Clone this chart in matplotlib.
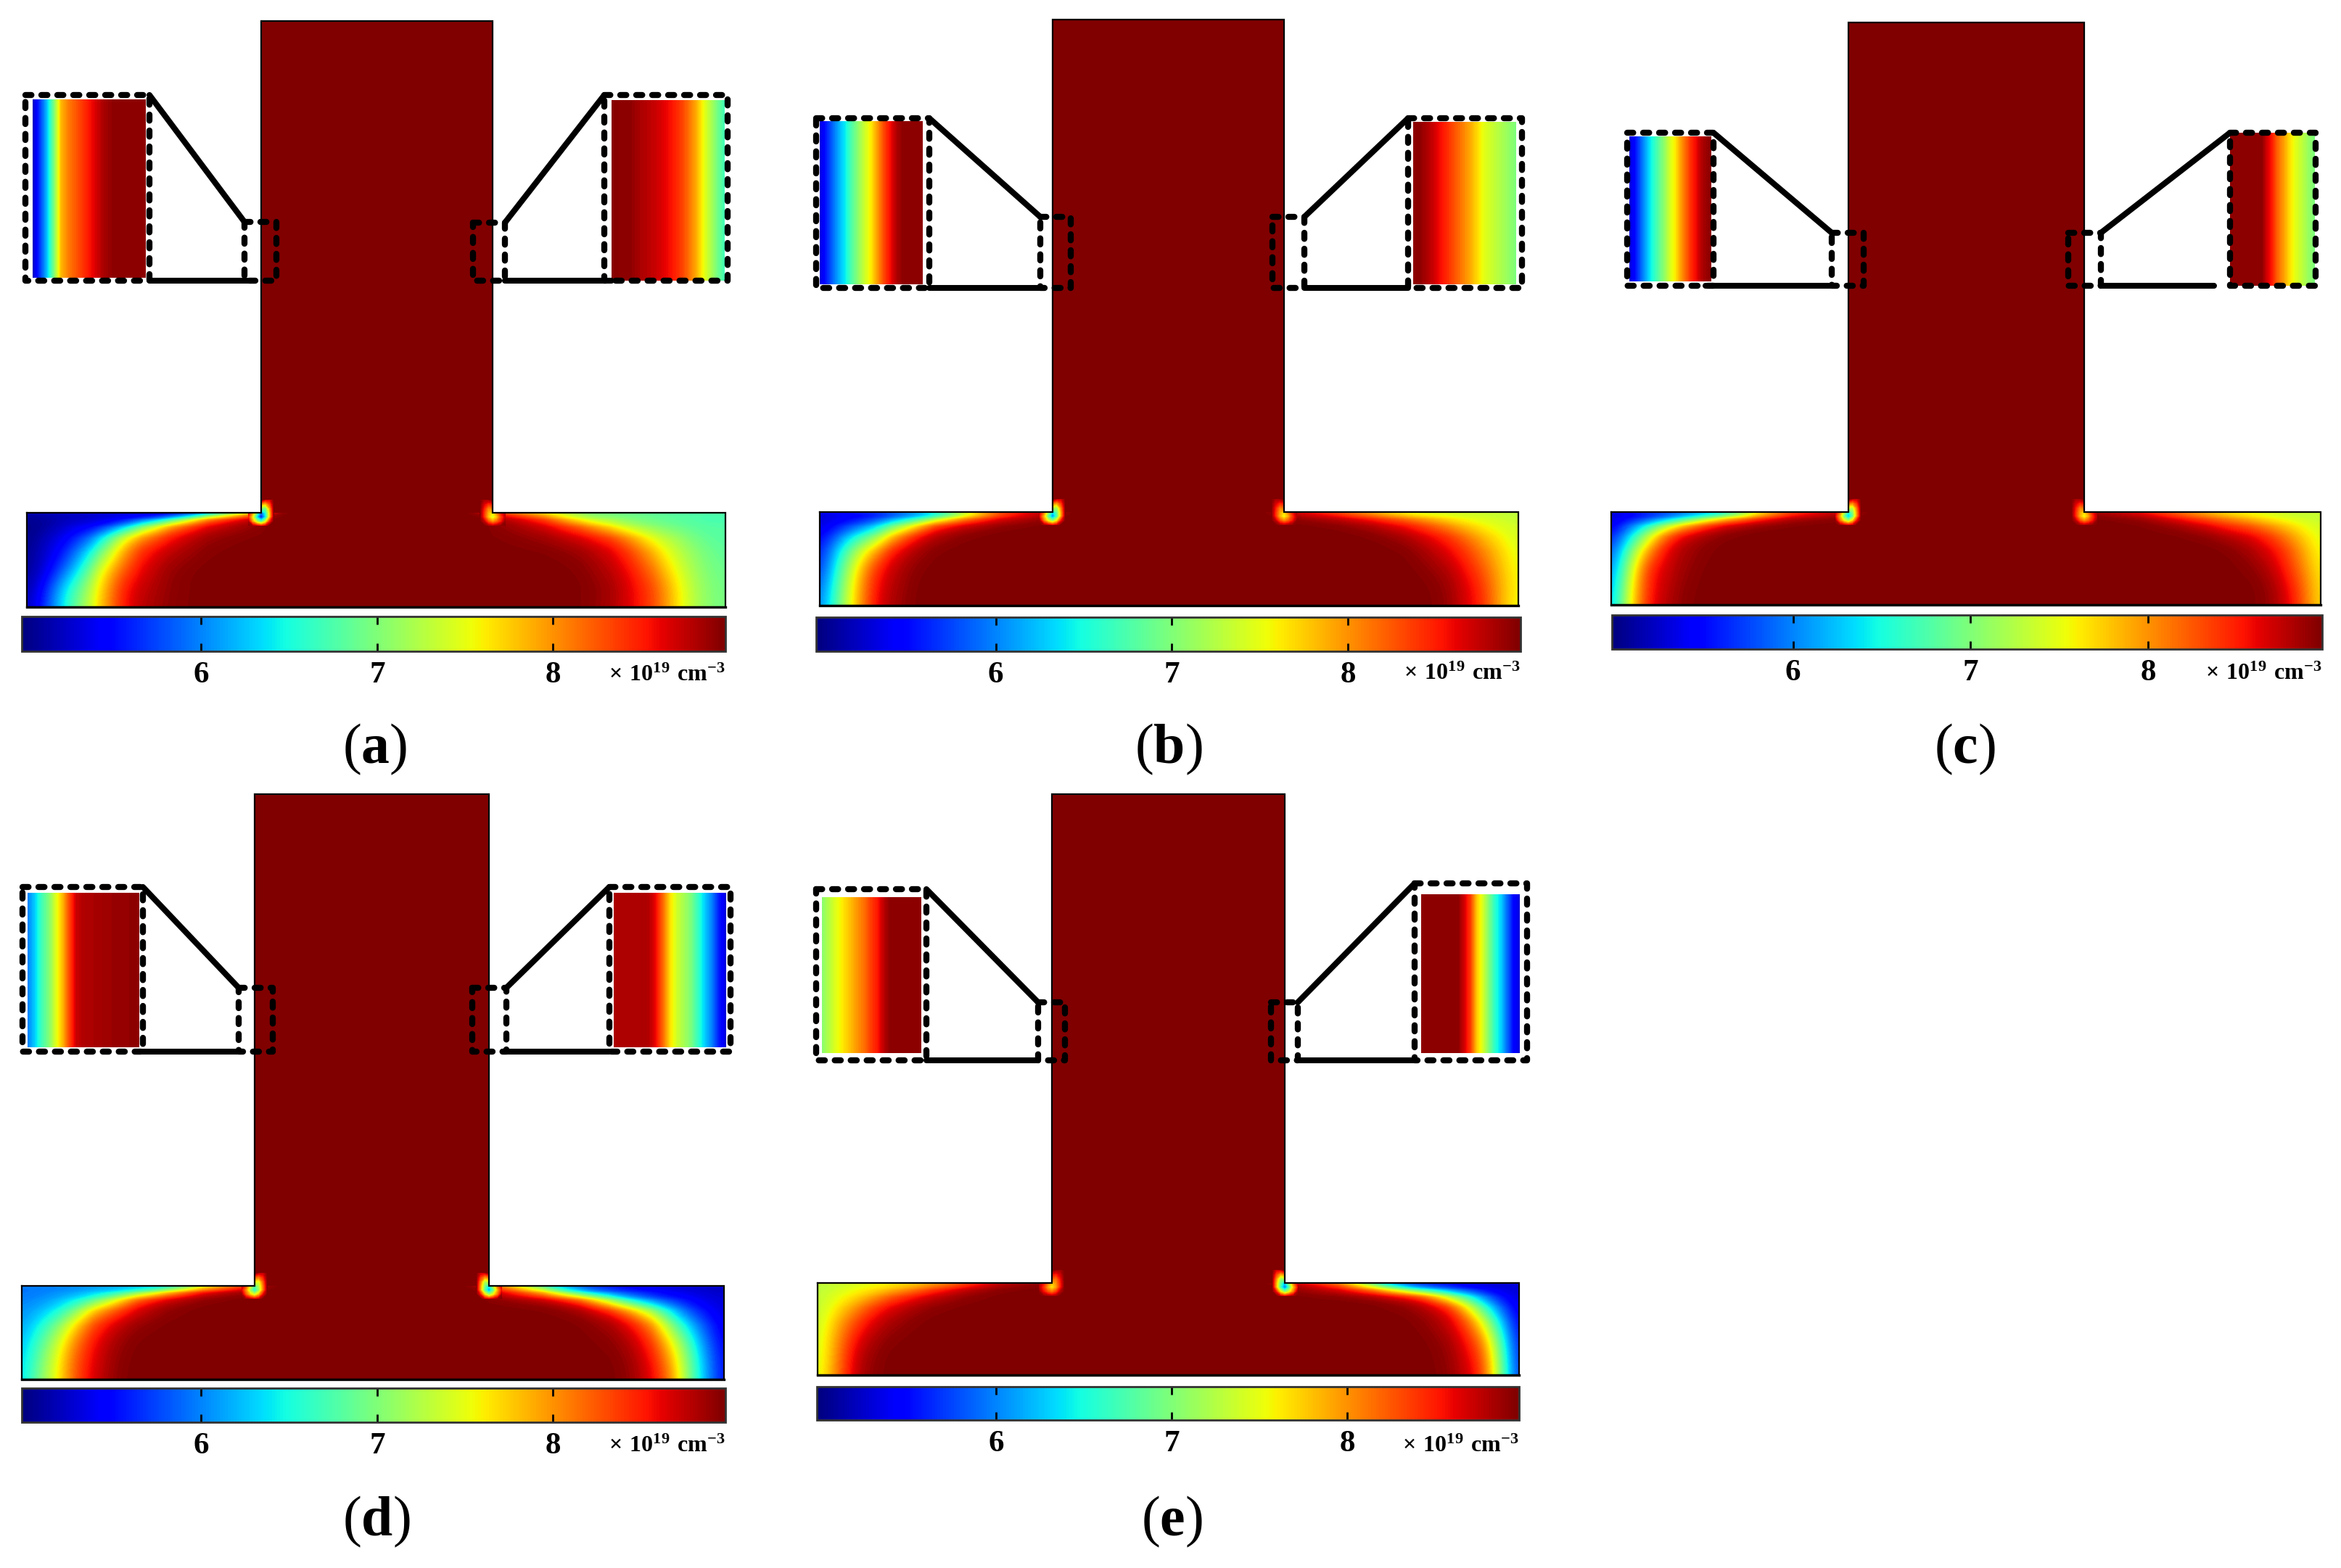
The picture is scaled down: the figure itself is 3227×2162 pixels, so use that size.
#coding=utf-8

import numpy as np
import matplotlib
matplotlib.use('Agg')
import matplotlib.pyplot as plt
from matplotlib.cm import ScalarMappable
from matplotlib.colors import Normalize
from matplotlib.patches import Polygon, Rectangle
from matplotlib.ticker import FormatStrFormatter

plt.rcParams['font.family'] = ['Liberation Serif', 'DejaVu Serif']
plt.rcParams['mathtext.fontset'] = 'custom'
plt.rcParams['mathtext.rm'] = 'Liberation Serif:bold'
plt.rcParams['mathtext.bf'] = 'Liberation Serif:bold'

#data: concentration in 1e19 cm-3
cbar_ticks = [6, 7, 8]
panel_labels = ['a', 'b', 'c', 'd', 'e']
unit_label = r'$\mathrm{\times\ 10^{19}\ cm^{-3}}$'
v_min, v_max = 5, 9
cbar_min, cbar_max = 4.98, 8.98

#foot grid: rows from the top edge, columns from the outer edge (px of the reference)
foot_rows = [0, 4, 10, 20, 35, 55, 80, 105, 130]
foot_cols = [0, 25, 50, 75, 100, 130, 160, 200, 250]

foot_left_a = [
    [5.2, 5.2, 5.25, 5.3, 5.3, 5.35, 5.4, 5.5, 6.0, 8.0],
    [5.1, 5.15, 5.2, 5.25, 5.3, 5.35, 5.4, 5.5, 6.5, 8.8],
    [5.05, 5.1, 5.2, 5.25, 5.3, 5.45, 5.75, 6.5, 8.4, 8.99],
    [5.0, 5.1, 5.25, 5.4, 5.5, 6.05, 7.0, 8.2, 8.73, 9],
    [5.0, 5.2, 5.4, 5.7, 6.2, 7.45, 8.1, 8.6, 8.95, 9],
    [5.05, 5.25, 5.55, 6.1, 6.8, 7.85, 8.55, 8.8, 9, 9],
    [5.05, 5.3, 5.85, 6.5, 7.45, 8.25, 8.65, 8.97, 9, 9],
    [5.1, 5.55, 6.35, 6.95, 7.6, 8.55, 8.75, 8.96, 9, 9],
    [5.15, 5.65, 6.45, 7.05, 7.7, 8.55, 8.8, 8.97, 9, 9],
]
foot_right_a = [
    [6.8, 6.8, 6.8, 6.8, 6.85, 6.9, 6.95, 7.05, 7.6, 8.3],
    [6.75, 6.75, 6.8, 6.85, 6.9, 6.95, 7.0, 7.1, 7.8, 8.9],
    [6.75, 6.75, 6.8, 6.85, 6.9, 7.0, 7.15, 7.4, 8.5, 9],
    [6.8, 6.8, 6.85, 6.95, 7.05, 7.25, 7.65, 8.3, 8.75, 9],
    [6.8, 6.85, 7.0, 7.25, 7.45, 8.0, 8.45, 8.7, 8.9, 9],
    [6.85, 6.95, 7.15, 7.45, 7.85, 8.4, 8.7, 8.92, 9, 9],
    [6.9, 7.0, 7.25, 7.65, 8.15, 8.58, 8.79, 9, 9, 9],
    [6.95, 7.05, 7.35, 7.85, 8.35, 8.65, 8.9, 9, 9, 9],
    [6.95, 7.05, 7.35, 7.85, 8.35, 8.65, 8.85, 9, 9, 9],
]
foot_left_b = [
    [5.4, 5.5, 5.6, 5.7, 5.9, 6.2, 6.6, 7.5, 8.5, 8.8],
    [5.3, 5.4, 5.45, 5.55, 5.75, 6.0, 6.3, 7.2, 8.4, 8.9],
    [5.3, 5.4, 5.5, 5.7, 6.0, 6.5, 7.1, 8.1, 8.7, 9],
    [5.3, 5.55, 5.85, 6.2, 6.9, 7.6, 8.55, 8.8, 9, 9],
    [5.4, 5.9, 6.55, 7.0, 7.85, 8.6, 8.85, 9, 9, 9],
    [5.5, 6.35, 7.2, 7.9, 8.6, 8.85, 9, 9, 9, 9],
    [5.6, 6.6, 7.6, 8.45, 8.75, 8.97, 9, 9, 9, 9],
    [5.8, 6.75, 7.75, 8.55, 8.8, 9, 9, 9, 9, 9],
    [5.9, 6.85, 7.8, 8.6, 8.85, 9, 9, 9, 9, 9],
]
foot_right_b = [
    [7.3, 7.35, 7.4, 7.4, 7.45, 7.5, 7.6, 7.9, 8.3, 8.8],
    [7.3, 7.35, 7.4, 7.4, 7.45, 7.5, 7.65, 8.0, 8.45, 8.9],
    [7.35, 7.4, 7.45, 7.55, 7.7, 7.95, 8.2, 8.5, 8.8, 9],
    [7.4, 7.45, 7.6, 7.8, 8.05, 8.4, 8.6, 8.85, 9, 9],
    [7.4, 7.6, 7.85, 8.2, 8.5, 8.7, 8.88, 9, 9, 9],
    [7.45, 7.75, 8.1, 8.45, 8.65, 8.88, 9, 9, 9, 9],
    [7.5, 7.85, 8.3, 8.6, 8.85, 8.97, 9, 9, 9, 9],
    [7.55, 7.9, 8.45, 8.7, 8.93, 9, 9, 9, 9, 9],
    [7.5, 7.9, 8.5, 8.7, 8.95, 9, 9, 9, 9, 9],
]
foot_left_c = [
    [5.3, 5.5, 5.7, 5.85, 6.05, 6.4, 6.7, 7.7, 8.5, 8.8],
    [5.3, 5.45, 5.6, 5.8, 6.0, 6.3, 6.55, 7.6, 8.5, 8.9],
    [5.3, 5.5, 5.75, 6.1, 6.5, 7.2, 7.8, 8.4, 8.9, 9],
    [5.3, 5.9, 6.5, 7.25, 7.9, 8.5, 8.8, 9, 9, 9],
    [5.5, 6.3, 7.3, 8.3, 8.75, 8.92, 9, 9, 9, 9],
    [5.7, 6.85, 7.95, 8.65, 8.85, 8.97, 9, 9, 9, 9],
    [5.9, 7.2, 8.5, 8.7, 8.9, 9, 9, 9, 9, 9],
    [6.0, 7.4, 8.5, 8.75, 8.95, 9, 9, 9, 9, 9],
    [6.1, 7.5, 8.57, 8.8, 8.97, 9, 9, 9, 9, 9],
]
foot_right_c = [
    [7.35, 7.35, 7.4, 7.5, 7.55, 7.7, 7.9, 8.2, 8.6, 8.9],
    [7.35, 7.35, 7.4, 7.5, 7.6, 7.75, 7.95, 8.3, 8.7, 9],
    [7.35, 7.4, 7.5, 7.65, 7.85, 8.1, 8.3, 8.6, 8.97, 9],
    [7.4, 7.55, 7.8, 8.05, 8.3, 8.47, 8.7, 8.92, 9, 9],
    [7.45, 7.75, 8.15, 8.5, 8.7, 8.85, 8.97, 9, 9, 9],
    [7.5, 7.95, 8.45, 8.7, 8.88, 9, 9, 9, 9, 9],
    [7.55, 8.1, 8.55, 8.85, 8.97, 9, 9, 9, 9, 9],
    [7.6, 8.25, 8.7, 8.95, 9, 9, 9, 9, 9, 9],
    [7.6, 8.3, 8.75, 8.95, 9, 9, 9, 9, 9, 9],
]
foot_left_d = [
    [6.0, 6.0, 6.05, 6.05, 6.1, 6.2, 6.3, 6.5, 7.4, 8.6],
    [5.95, 6.0, 6.0, 6.05, 6.15, 6.2, 6.3, 6.5, 7.7, 8.9],
    [5.95, 6.0, 6.05, 6.15, 6.25, 6.45, 6.9, 7.75, 8.8, 9],
    [6.0, 6.05, 6.2, 6.4, 6.75, 7.5, 8.4, 8.8, 9, 9],
    [6.05, 6.2, 6.45, 7.0, 7.85, 8.35, 8.7, 8.97, 9, 9],
    [6.1, 6.45, 7.0, 7.75, 8.4, 8.75, 8.95, 9, 9, 9],
    [6.2, 6.75, 7.4, 8.15, 8.6, 8.9, 9, 9, 9, 9],
    [6.25, 6.9, 7.55, 8.3, 8.65, 8.95, 9, 9, 9, 9],
    [6.3, 7.0, 7.6, 8.35, 8.7, 8.97, 9, 9, 9, 9],
]
foot_right_d = [
    [5.3, 5.3, 5.3, 5.35, 5.4, 5.5, 5.6, 5.85, 6.6, 8.5],
    [5.25, 5.25, 5.3, 5.35, 5.4, 5.5, 5.65, 5.95, 6.9, 8.9],
    [5.25, 5.3, 5.35, 5.45, 5.55, 5.7, 5.9, 6.35, 7.95, 9],
    [5.3, 5.35, 5.5, 5.65, 5.85, 6.35, 7.15, 8.55, 8.9, 9],
    [5.3, 5.5, 5.8, 6.45, 7.2, 8.1, 8.65, 8.95, 9, 9],
    [5.35, 5.75, 6.35, 7.1, 8.15, 8.68, 8.9, 9, 9, 9],
    [5.4, 5.95, 6.8, 7.75, 8.45, 8.85, 8.97, 9, 9, 9],
    [5.45, 6.1, 7.0, 8.0, 8.6, 8.93, 9, 9, 9, 9],
    [5.45, 6.15, 7.05, 8.2, 8.65, 8.95, 9, 9, 9, 9],
]
foot_left_e = [
    [7.35, 7.4, 7.45, 7.55, 7.6, 7.75, 7.95, 8.3, 8.8, 8.95],
    [7.3, 7.35, 7.45, 7.55, 7.65, 7.8, 8.0, 8.35, 8.85, 9],
    [7.3, 7.4, 7.55, 7.65, 7.8, 8.05, 8.4, 8.75, 9, 9],
    [7.3, 7.5, 7.65, 7.9, 8.25, 8.55, 8.75, 8.95, 9, 9],
    [7.3, 7.6, 7.95, 8.4, 8.65, 8.85, 8.97, 9, 9, 9],
    [7.3, 7.8, 8.3, 8.65, 8.85, 8.97, 9, 9, 9, 9],
    [7.35, 7.95, 8.55, 8.85, 8.97, 9, 9, 9, 9, 9],
    [7.35, 8.0, 8.7, 8.93, 9, 9, 9, 9, 9, 9],
    [7.4, 8.05, 8.75, 8.95, 9, 9, 9, 9, 9, 9],
]
foot_right_e = [
    [5.3, 5.3, 5.35, 5.4, 5.5, 5.65, 5.9, 6.7, 8.1, 8.8],
    [5.3, 5.3, 5.35, 5.45, 5.6, 5.75, 6.0, 7.0, 8.5, 8.95],
    [5.3, 5.35, 5.5, 5.7, 5.95, 6.4, 7.0, 8.1, 8.7, 9],
    [5.3, 5.5, 6.0, 6.75, 7.4, 8.5, 8.75, 8.97, 9, 9],
    [5.3, 5.85, 6.75, 7.8, 8.65, 8.85, 8.97, 9, 9, 9],
    [5.35, 6.25, 7.5, 8.4, 8.75, 8.95, 9, 9, 9, 9],
    [5.4, 6.7, 8.1, 8.6, 8.9, 9, 9, 9, 9, 9],
    [5.45, 6.9, 8.35, 8.7, 8.95, 9, 9, 9, 9, 9],
    [5.5, 7.0, 8.45, 8.75, 8.97, 9, 9, 9, 9, 9],
]

#zoomed strips, left to right
strip_left_a = [5.2, 5.7, 6.25, 7.0, 7.85, 8.1, 8.25, 8.4, 8.55, 8.7, 8.85, 8.92, 8.95, 8.95, 8.95, 8.95, 8.95]
strip_right_a = [8.96, 8.95, 8.95, 8.92, 8.85, 8.8, 8.75, 8.68, 8.6, 8.5, 8.35, 8.15, 7.9, 7.55, 7.25, 6.95, 6.7]
strip_left_b = [5.3, 5.6, 5.9, 6.2, 6.45, 6.8, 7.1, 7.4, 7.65, 8.0, 8.35, 8.6, 8.85, 8.95, 8.95, 8.95, 8.95]
strip_right_b = [8.95, 8.95, 8.85, 8.75, 8.6, 8.5, 8.35, 8.2, 8.05, 7.9, 7.7, 7.5, 7.4, 7.3, 7.2, 7.1, 7.0]
strip_left_c = [5.3, 5.5, 5.8, 6.1, 6.4, 6.65, 6.9, 7.15, 7.45, 7.65, 7.95, 8.2, 8.45, 8.6, 8.8, 8.9, 8.95]
strip_right_c = [8.95, 8.95, 8.95, 8.95, 8.95, 8.95, 8.95, 8.7, 8.5, 8.2, 8.0, 7.75, 7.55, 7.4, 7.25, 7.1, 7.0]
strip_left_d = [6.0, 6.3, 6.7, 7.0, 7.45, 7.85, 8.35, 8.75, 8.82, 8.84, 8.86, 8.88, 8.9, 8.91, 8.92, 8.93, 8.94]
strip_right_d = [8.85, 8.85, 8.85, 8.85, 8.84, 8.82, 8.6, 8.2, 7.7, 7.4, 7.2, 7.0, 6.65, 6.3, 6.0, 5.6, 5.3]
strip_left_e = [7.05, 7.25, 7.45, 7.6, 7.75, 7.9, 8.05, 8.2, 8.4, 8.55, 8.8, 8.95, 8.95, 8.95, 8.95, 8.95, 8.95]
strip_right_e = [8.95, 8.95, 8.95, 8.95, 8.95, 8.95, 8.95, 8.7, 8.4, 7.8, 7.45, 7.0, 6.6, 6.3, 5.9, 5.5, 5.3]

#hot spot in the re-entrant corners: lowest value and shape (0 = no dip, 1 = full dip)
spot_core_left = [5.5, 6.0, 6.2, 6.5, 7.6]
spot_core_right = [7.4, 7.5, 7.5, 6.1, 5.9]
spot_steps = [-18, -12, -6, 0, 6, 12, 18]
spot_shape = [
    [0, 0, 0, 0, 0.1, 0.1, 0],
    [0, 0, 0, 0.3, 0.35, 0.2, 0],
    [0, 0, 0, 0.55, 0.6, 0.3, 0],
    [0.1, 0.3, 0.6, 0.9, 0.7, 0.35, 0],
    [0.15, 0.4, 0.75, 1, 0.75, 0.35, 0],
    [0.05, 0.3, 0.5, 0.65, 0.45, 0.15, 0],
    [0, 0.05, 0.1, 0.15, 0.1, 0, 0],
]

foots_left = [foot_left_a, foot_left_b, foot_left_c, foot_left_d, foot_left_e]
foots_right = [foot_right_a, foot_right_b, foot_right_c, foot_right_d, foot_right_e]
strips_left = [strip_left_a, strip_left_b, strip_left_c, strip_left_d, strip_left_e]
strips_right = [strip_right_a, strip_right_b, strip_right_c, strip_right_d, strip_right_e]

#layout, in px of the 3227x2162 picture
W, H = 3227, 2162
layouts = [
    dict(foot=(37, 1000, 707, 837), stem=(360, 679, 29), cbar=(30, 1000, 850, 898),
         tick_y=927, label=(517, 1033),
         box_l=(35, 206, 131, 387), img_l=(45, 201, 137, 383), small_l=(337, 381, 306, 387), solid_l=(206, 345),
         box_r=(833, 1003, 131, 387), img_r=(843, 999, 138, 387), small_r=(652, 696, 307, 387), solid_r=(696, 843)),
    dict(foot=(1130, 2093, 706, 835), stem=(1451, 1770, 27), cbar=(1125, 2096, 851, 898),
         tick_y=925, label=(1611, 1033),
         box_l=(1125, 1281, 163, 397), img_l=(1130, 1272, 167, 392), small_l=(1434, 1476, 299, 397), solid_l=(1281, 1434),
         box_r=(1941, 2098, 163, 397), img_r=(1948, 2090, 168, 392), small_r=(1754, 1798, 299, 397), solid_r=(1798, 1941)),
    dict(foot=(2221, 3199, 706, 834), stem=(2548, 2873, 31), cbar=(2222, 3201, 848, 895),
         tick_y=925, label=(2708, 1033),
         box_l=(2243, 2362, 183, 394), img_l=(2246, 2359, 188, 388), small_l=(2525, 2569, 321, 394), solid_l=(2351, 2525),
         box_r=(3074, 3192, 183, 394), img_r=(3074, 3191, 183, 394), small_r=(2851, 2896, 321, 394), solid_r=(2896, 3052)),
    dict(foot=(30, 998, 1773, 1902), stem=(351, 674, 1095), cbar=(30, 1000, 1914, 1961),
         tick_y=1990, label=(519, 2098),
         box_l=(31, 197, 1223, 1450), img_l=(38, 192, 1231, 1444), small_l=(329, 376, 1362, 1450), solid_l=(190, 329),
         box_r=(840, 1007, 1223, 1450), img_r=(846, 1001, 1231, 1444), small_r=(651, 698, 1362, 1450), solid_r=(698, 840)),
    dict(foot=(1127, 2094, 1769, 1896), stem=(1450, 1771, 1095), cbar=(1126, 2094, 1912, 1958),
         tick_y=1990, label=(1615, 2098),
         box_l=(1125, 1277, 1226, 1462), img_l=(1133, 1270, 1237, 1452), small_l=(1431, 1468, 1382, 1462), solid_l=(1277, 1431),
         box_r=(1950, 2105, 1218, 1462), img_r=(1959, 2095, 1233, 1452), small_r=(1752, 1789, 1382, 1462), solid_r=(1789, 1950)),
]

#functions
norm = Normalize(v_min, v_max)
levels = np.linspace(v_min, v_max, 161)
DASH = (0, (1, 1.64))


def drawField(ax, x, y, z, zorder=1):
    return ax.contourf(x, y, z, levels=levels, cmap='jet', norm=norm, extend='both', zorder=zorder)


def refineAxis(values, n):
    # n sub steps between neighbours, straight between them
    index = np.arange((len(values) - 1) * n + 1) / n
    return np.interp(index, np.arange(len(values)), values)


def blurAxis(values, n):
    # box filter over one cell, so the kinks of the coarse grid go
    kernel = np.ones(n + 1) / (n + 1)
    padded = np.pad(values, n // 2, mode='edge')
    return np.convolve(padded, kernel, mode='valid')


def drawSmoothField(ax, x, y, z, zorder=1, n=8):
    fine_x, fine_y = refineAxis(x, n), refineAxis(y, n)
    fine_z = np.apply_along_axis(refineAxis, 1, z, n)
    fine_z = np.apply_along_axis(refineAxis, 0, fine_z, n)
    for _ in range(2):
        fine_z = np.apply_along_axis(blurAxis, 1, fine_z, n)
        fine_z = np.apply_along_axis(blurAxis, 0, fine_z, n)
    return drawField(ax, fine_x, fine_y, fine_z, zorder)


def drawBox(ax, box):
    x0, x1, y0, y1 = box
    ax.plot([x0, x1, x1, x0, x0], [y0, y0, y1, y1, y0], color='black', lw=6, linestyle=DASH,
            dash_capstyle='round', zorder=5)


def drawStrip(ax, img, values):
    x0, x1, y0, y1 = img
    x = np.linspace(x0, x1, len(values))
    drawField(ax, x, [y0, y1], np.vstack([values, values]), zorder=3)


#main
fig = plt.figure(figsize=(W / 100, H / 100), dpi=100)
ax = fig.add_axes([0, 0, 1, 1])
ax.set_xlim(0, W)
ax.set_ylim(H, 0)
ax.set_autoscale_on(False)
ax.axis('off')

for i, lay in enumerate(layouts):
    fx0, fx1, fy0, fy1 = lay['foot']
    sx0, sx1, sy0 = lay['stem']

    #the T body
    dark = plt.get_cmap('jet')(norm(v_max))
    ax.add_patch(Rectangle((sx0, sy0), sx1 - sx0, fy0 - sy0 + 1, facecolor=dark, edgecolor='none', zorder=1))
    left = np.array(foots_left[i], dtype=float)
    right = np.array(foots_right[i], dtype=float)[:, ::-1]
    full = np.full((left.shape[0], 4), float(v_max))
    cols_l = np.array(foot_cols + [sx0 - fx0]) + fx0
    cols_r = fx1 - np.array(foot_cols + [fx1 - sx1])[::-1]
    x = np.concatenate([cols_l, [sx0 + 25, sx0 + 50, sx1 - 50, sx1 - 25], cols_r])
    y = fy0 + np.array(foot_rows) * (fy1 - fy0) / foot_rows[-1]
    drawSmoothField(ax, x, y, np.hstack([left, full, right]))

    #outline and corner spots
    verts = [(fx0, fy0), (sx0, fy0), (sx0, sy0), (sx1, sy0), (sx1, fy0), (fx1, fy0), (fx1, fy1), (fx0, fy1)]
    shape = np.array(spot_shape)
    steps = np.array(spot_steps)
    for cx, flip, core in ((sx0, 1, spot_core_left[i]), (sx1, -1, spot_core_right[i])):
        z = v_max - shape * (v_max - core)
        spot_x = cx + steps if flip == 1 else cx - steps[::-1]
        spot_z = z if flip == 1 else z[:, ::-1]
        cs = drawField(ax, spot_x, fy0 + steps, spot_z, zorder=2)
        cs.set_clip_path(Polygon(verts, closed=True, transform=ax.transData))
    xs, ys = zip(*(verts + verts[:1]))
    ax.plot(xs, ys, color='black', lw=1.6, solid_joinstyle='miter', zorder=3)
    ax.plot([fx0, fx1], [fy1, fy1], color='black', lw=2.4, zorder=3)

    #zoomed strips and the lines that tie them to the corners
    drawStrip(ax, lay['img_l'], strips_left[i])
    drawStrip(ax, lay['img_r'], strips_right[i])
    for box in (lay['box_l'], lay['box_r'], lay['small_l'], lay['small_r']):
        drawBox(ax, box)
    bl, br, sl, sr = lay['box_l'], lay['box_r'], lay['small_l'], lay['small_r']
    ax.plot([bl[1], sl[0]], [bl[2], sl[2]], color='black', lw=5.8, solid_capstyle='round', zorder=5)
    ax.plot([sr[1], br[0]], [sr[2], br[2]], color='black', lw=5.8, solid_capstyle='round', zorder=5)
    ax.plot(lay['solid_l'], [bl[3], bl[3]], color='black', lw=5.8, solid_capstyle='round', zorder=5)
    ax.plot(lay['solid_r'], [br[3], br[3]], color='black', lw=5.8, solid_capstyle='round', zorder=5)

    #colour bar
    cx0, cx1, cy0, cy1 = lay['cbar']
    cax = fig.add_axes([cx0 / W, 1 - cy1 / H, (cx1 - cx0) / W, (cy1 - cy0) / H])
    sm = ScalarMappable(norm=Normalize(cbar_min, cbar_max), cmap='jet')
    cb = fig.colorbar(sm, cax=cax, orientation='horizontal')
    cb.set_ticks(cbar_ticks)
    cax.xaxis.set_major_formatter(FormatStrFormatter('%d'))
    cax.tick_params(axis='x', direction='in', length=8, width=2, top=True, bottom=True, pad=10, labelsize=31)
    for t in cax.get_xticklabels():
        t.set_fontweight('bold')
    cb.outline.set_edgecolor('#333333')
    cb.outline.set_linewidth(2)

    ax.text(cx1, lay['tick_y'] + 4, unit_label, ha='right', va='center', fontsize=23, color='black', zorder=6)
    ax.text(lay['label'][0], lay['label'][1], '($\\mathbf{%s}$)' % panel_labels[i], ha='center', va='center',
            fontsize=56, color='black', zorder=6)

plt.savefig('out.png', dpi=100)
plt.close()
